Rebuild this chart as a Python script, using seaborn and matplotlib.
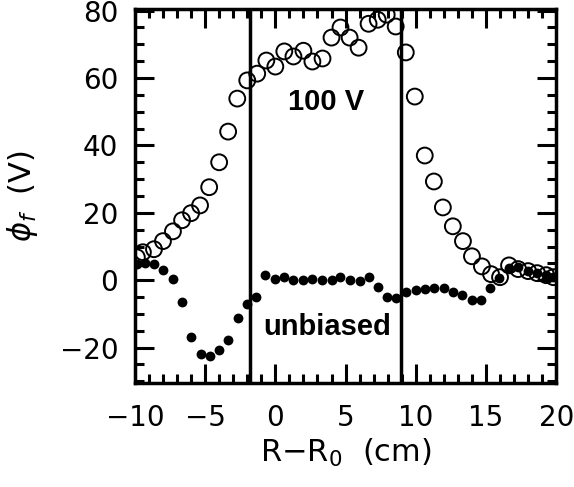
import numpy as np
import pandas as pd
import seaborn as sns
import matplotlib.pyplot as plt
from matplotlib.ticker import MultipleLocator

# floating potential profiles
r_biased = [-9.86, -9.43, -8.64, -8.0, -7.29, -6.64, -6.0, -5.36, -4.71, -4.0, -3.36, -2.71, -2.0,
            -1.29, -0.64, 0.0, 0.64, 1.29, 2.0, 2.64, 3.36, 4.0, 4.64, 5.29, 5.93, 6.64, 7.29, 7.93, 8.57,
            9.29, 9.93, 10.64, 11.29, 11.93, 12.64, 13.36, 14.0, 14.71, 15.36, 16.0, 16.64, 17.29, 18.0,
            18.64, 19.29, 19.8]
phi_biased = [6.8, 8.3, 9.2, 11.6, 14.5, 17.8, 19.9, 22.2, 27.6, 35.0, 44.1, 53.9, 59.3,
              61.3, 65.2, 63.4, 67.9, 66.4, 68.1, 64.9, 65.8, 72.0, 75.0, 72.0, 69.0, 76.1, 77.3, 78.8, 75.3,
              67.6, 54.5, 37.0, 29.3, 21.6, 16.0, 11.6, 7.1, 4.1, 1.8, 0.9, 4.4, 3.3, 2.7,
              2.1, 1.5, 0.9]

r_unbiased = [-9.86, -9.29, -8.64, -8.0, -7.29, -6.64, -6.0, -5.29, -4.64, -4.0, -3.36, -2.64, -2.0,
              -1.36, -0.71, 0.0, 0.64, 1.29, 2.0, 2.64, 3.29, 4.0, 4.64, 5.29, 6.0, 6.64, 7.29, 7.93, 8.57,
              9.29, 10.0, 10.64, 11.29, 12.0, 12.64, 13.29, 14.0, 14.64, 15.29, 15.93, 16.64, 17.29, 18.0,
              18.64, 19.29, 19.8]
phi_unbiased = [4.7, 5.0, 4.7, 3.0, 0.3, -6.5, -16.9, -21.9, -22.5, -20.7, -17.8, -11.3, -7.1,
                -5.0, 1.5, 0.3, 0.9, 0.0, 0.0, 0.3, 0.0, 0.0, 0.9, 0.0, -0.3, 0.9, -2.1, -5.0, -5.3,
                -3.6, -3.0, -2.7, -2.4, -2.4, -3.6, -4.4, -5.9, -5.9, -2.4, 0.6, 3.6, 3.9, 2.7,
                2.1, 1.5, 0.9]

# limiter / boundary positions
x_lines = [-1.8, 8.95]

df_b = pd.DataFrame({'r': r_biased, 'phi': phi_biased})
df_u = pd.DataFrame({'r': r_unbiased, 'phi': phi_unbiased})

sns.set_style('ticks')
plt.rcParams['font.family'] = ['DejaVu Sans']
plt.rcParams['mathtext.fontset'] = 'dejavusans'
for k in ['text.color', 'axes.labelcolor', 'xtick.color', 'ytick.color', 'axes.edgecolor']:
    plt.rcParams[k] = 'black'

fig = plt.figure(figsize=(5.74, 4.87), dpi=100)
ax = fig.add_axes([0.235, 0.2136, 0.734, 0.768])

sns.scatterplot(data=df_b, x='r', y='phi', ax=ax, marker='o', s=130,
                facecolor='none', edgecolor='black', linewidth=1.4, zorder=3)
sns.scatterplot(data=df_u, x='r', y='phi', ax=ax, marker='o', s=50,
                color='black', edgecolor='black', linewidth=0, zorder=3)

for xl in x_lines:
    ax.axvline(xl, color='black', lw=2.5, zorder=2)

ax.text(3.6, 53, '100 V', fontsize=21, fontweight='bold', family='Liberation Sans',
        ha='center', va='center')
ax.text(3.7, -14, 'unbiased', fontsize=21, fontweight='bold', family='Liberation Sans',
        ha='center', va='center')

ax.set_xlim(-10, 20)
ax.set_ylim(-30.5, 80.5)
ax.xaxis.set_major_locator(MultipleLocator(5))
ax.xaxis.set_minor_locator(MultipleLocator(1))
ax.yaxis.set_minor_locator(MultipleLocator(5))
ax.set_yticks([-20, 0, 20, 40, 60, 80])

ax.tick_params(which='both', direction='in', top=True, right=True, width=2.2,
               labelsize=20, color='black', labelcolor='black')
ax.tick_params(axis='x', which='major', length=13.5, pad=15)
ax.tick_params(axis='y', which='major', length=13.5, pad=12)
ax.tick_params(which='minor', length=6.5)
for sp in ax.spines.values():
    sp.set_linewidth(2.5)
    sp.set_color('black')

ax.set_xlabel(r'R$-$R$_0$  (cm)', fontsize=22, labelpad=4)
ax.set_ylabel(r'$\phi_f$  (V)', fontsize=22, labelpad=14)

plt.savefig('out.png', dpi=100)
